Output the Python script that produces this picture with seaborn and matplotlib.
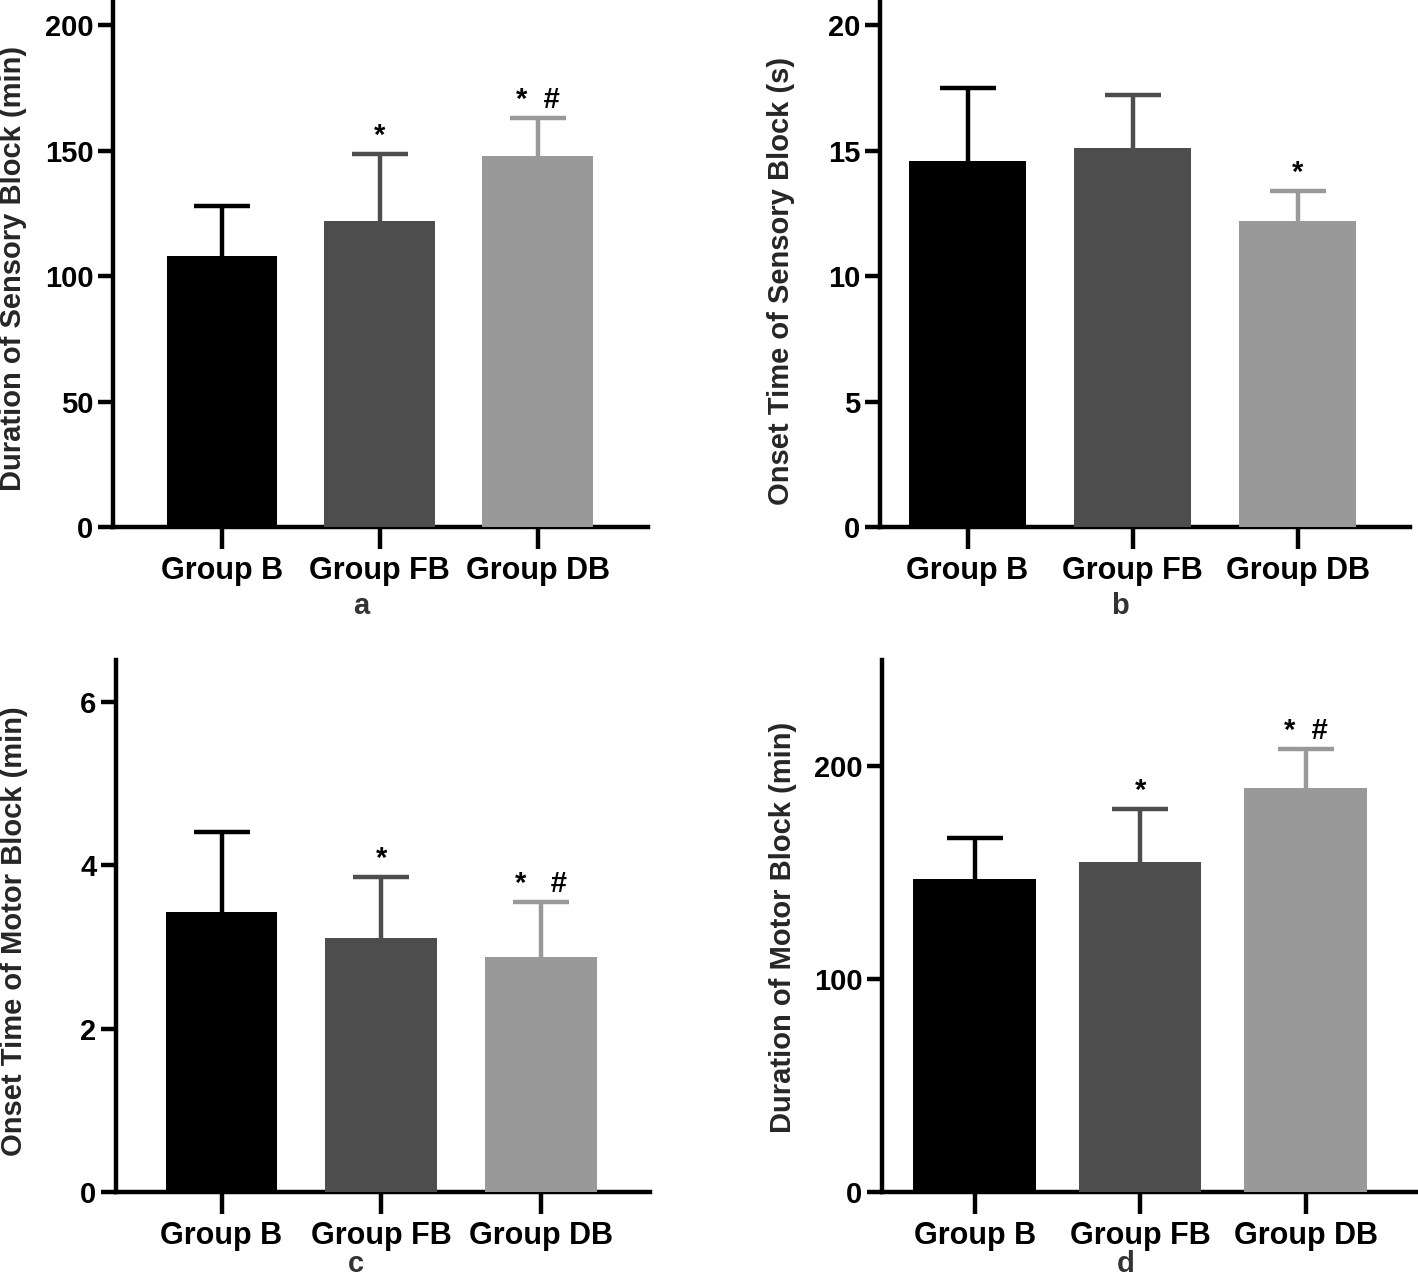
import matplotlib
matplotlib.use("Agg")
import matplotlib.pyplot as plt
import seaborn as sns
import pandas as pd

groups = ["Group B", "Group FB", "Group DB"]
colors = ["#000000", "#4d4d4d", "#999999"]

# panel a: duration of sensory block
sens_dur_mean = [108, 122, 148]
sens_dur_sd = [20, 26.5, 15]
# panel b: onset time of sensory block
sens_on_mean = [14.6, 15.1, 12.2]
sens_on_sd = [2.9, 2.1, 1.2]
# panel c: onset time of motor block
mot_on_mean = [3.42, 3.11, 2.87]
mot_on_sd = [0.98, 0.74, 0.68]
# panel d: duration of motor block
mot_dur_mean = [147, 155, 190]
mot_dur_sd = [19.5, 25, 18]

sns.set_style("ticks", {"axes.edgecolor": "black", "xtick.color": "black",
                        "ytick.color": "black", "text.color": "black"})
plt.rcParams["font.family"] = ["Liberation Sans", "DejaVu Sans"]
plt.rcParams["font.weight"] = "bold"

fig = plt.figure(figsize=(14.18, 12.81), dpi=100)

panels = [
    # mean, sd, marks, ylabel, letter, axes rect, ylim, yticks, xlim, bar width, label coords, letter pos
    (sens_dur_mean, sens_dur_sd, ["", "*", "*  #"], "Duration of Sensory Block (min)", "a",
     [0.0797, 0.5886, 0.3773, 0.4114], 210, [0, 50, 100, 150, 200], (-0.69, 2.7), 0.70,
     (-0.16, 0.49), (0.255, 0.516)),
    (sens_on_mean, sens_on_sd, ["", "", "*"], "Onset Time of Sensory Block (s)", "b",
     [0.6206, 0.5886, 0.3738, 0.4114], 21, [0, 5, 10, 15, 20], (-0.53, 2.68), 0.71,
     (-0.16, 0.467), (0.790, 0.516)),
    (mot_on_mean, mot_on_sd, ["", "*", "*   #"], "Onset Time of Motor Block (min)", "c",
     [0.0818, 0.0695, 0.3766, 0.4153], 6.51, [0, 2, 4, 6], (-0.66, 2.68), 0.70,
     (-0.165, 0.49), (0.251, 0.002)),
    (mot_dur_mean, mot_dur_sd, ["", "*", "*  #"], "Duration of Motor Block (min)", "d",
     [0.622, 0.0695, 0.378, 0.4153], 250, [0, 100, 200], (-0.56, 2.68), 0.74,
     (-0.159, 0.498), (0.794, 0.002)),
]

for mean, sd, marks, ylabel, letter, rect, ytop, yticks, xlim, bw, lab_xy, let_xy in panels:
    ax = fig.add_axes(rect)
    df = pd.DataFrame({"group": groups, "value": mean})
    sns.barplot(data=df, x="group", y="value", hue="group", palette=colors,
                width=bw, linewidth=0, legend=False, ax=ax, zorder=3)
    for i, (m, s, c) in enumerate(zip(mean, sd, colors)):
        _, caps, _ = ax.errorbar(i, m, yerr=[[0], [s]], color=c, elinewidth=3.2,
                                 capsize=20, capthick=3.2, fmt="none", zorder=2)
        # only the upper cap is shown
        for cap in caps:
            if cap.get_ydata()[0] <= m:
                cap.set_visible(False)
        if marks[i]:
            ax.annotate(marks[i], (i, m + s), xytext=(0, 3), textcoords="offset points",
                        ha="center", va="bottom", fontsize=21, fontweight="bold")
    ax.set_ylim(0, ytop)
    ax.set_xlim(*xlim)
    ax.set_yticks(yticks)
    ax.set_xlabel("")
    ax.set_ylabel(ylabel, fontsize=21, fontweight="bold")
    ax.yaxis.set_label_coords(*lab_xy)
    for side in ["top", "right"]:
        ax.spines[side].set_visible(False)
    for side in ["left", "bottom"]:
        ax.spines[side].set_linewidth(3.2)
    ax.tick_params(axis="y", length=11, width=3.2, labelsize=21, pad=3)
    ax.tick_params(axis="x", length=16, width=3.2, labelsize=22, pad=5)
    for t in ax.get_xticklabels() + ax.get_yticklabels():
        t.set_fontweight("bold")
    fig.text(let_xy[0], let_xy[1], letter, ha="center", va="bottom",
             fontsize=21, fontweight="bold", color="#333333")

fig.savefig("out.png", dpi=100)
